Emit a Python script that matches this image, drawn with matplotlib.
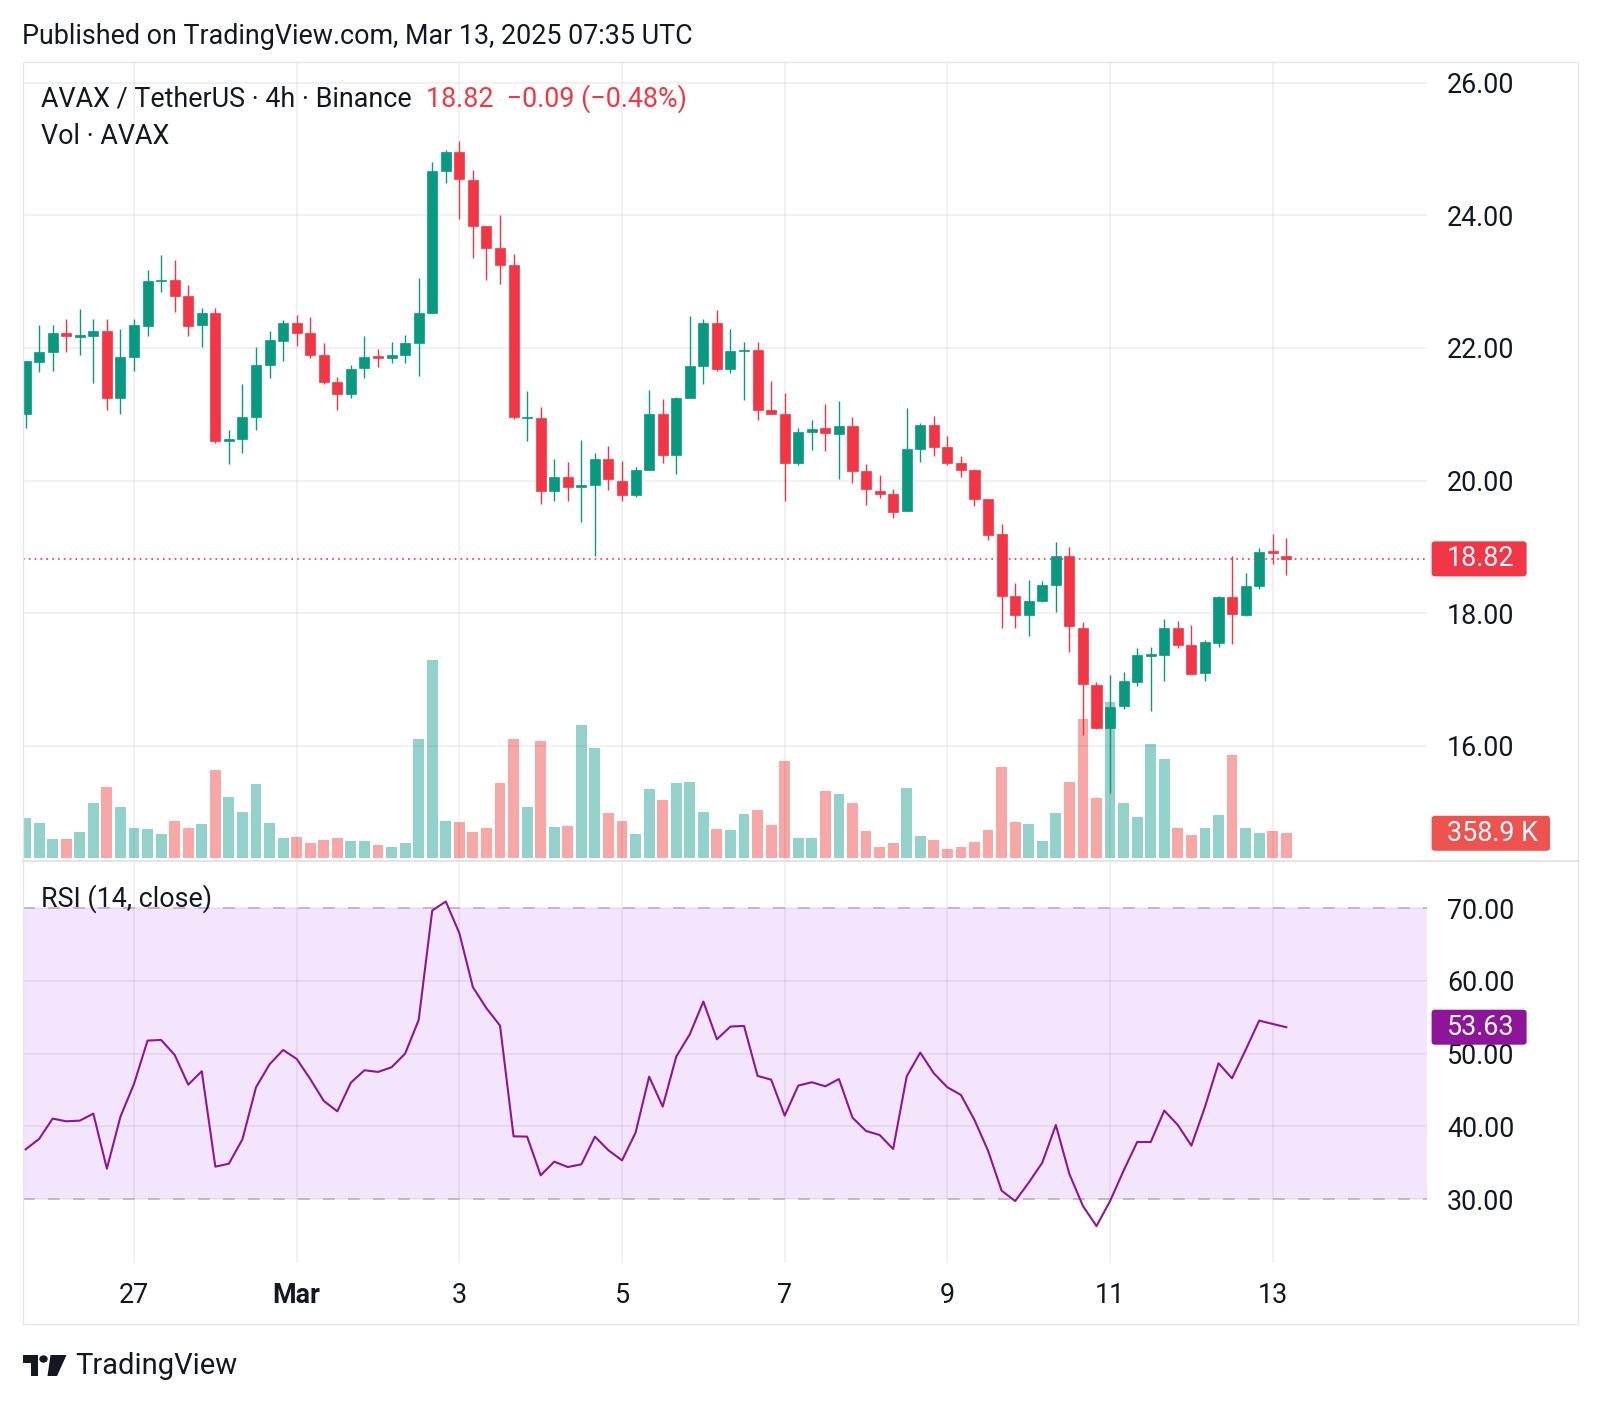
import matplotlib.pyplot as plt
import numpy as np
from matplotlib.lines import Line2D
from matplotlib.patches import Circle, FancyBboxPatch, Polygon, Rectangle
from matplotlib.ticker import FormatStrFormatter

W, H = 1600, 1403

# AVAX/USDT 4h candles, Feb 25 16:00 -> Mar 13 04:00
opens = [21.00, 21.79, 21.94, 22.22, 22.17, 22.18, 22.25, 21.24, 21.87, 22.33,
         23.01, 23.03, 22.78, 22.34, 22.53, 20.59, 20.62, 20.96, 21.75, 22.11,
         22.38, 22.22, 21.90, 21.48, 21.31, 21.70, 21.88, 21.85, 21.90, 22.08,
         22.52, 24.67, 24.95, 24.54, 23.84, 23.50, 23.25, 20.94, 20.95, 19.84,
         20.05, 19.91, 19.94, 20.33, 20.00, 19.78, 20.16, 21.00, 20.39, 21.25,
         21.73, 22.38, 21.68, 21.95, 21.97, 21.07, 21.00, 20.26, 20.74, 20.80,
         20.71, 20.82, 20.14, 19.85, 19.80, 19.54, 20.48, 20.84, 20.50, 20.27,
         20.16, 19.73, 19.19, 18.26, 17.98, 18.18, 18.42, 18.86, 17.78, 16.92,
         16.27, 16.60, 16.97, 17.36, 17.37, 17.78, 17.52, 17.10, 17.55, 18.24,
         17.98, 18.41, 18.94, 18.87]
highs = [21.81, 22.34, 22.34, 22.43, 22.59, 22.43, 22.44, 22.28, 22.43, 23.17,
         23.40, 23.32, 22.95, 22.61, 22.61, 20.77, 21.46, 22.01, 22.25, 22.42,
         22.50, 22.46, 22.08, 21.56, 21.74, 22.18, 21.99, 22.09, 22.19, 23.06,
         24.80, 24.99, 25.12, 24.69, 23.84, 24.00, 23.42, 21.35, 21.11, 20.32,
         20.28, 20.61, 20.42, 20.52, 20.29, 20.20, 21.37, 21.23, 21.26, 22.48,
         22.43, 22.57, 22.28, 22.09, 22.09, 21.50, 21.32, 20.80, 20.92, 21.15,
         21.20, 20.96, 20.25, 20.08, 19.87, 21.10, 20.87, 20.98, 20.68, 20.37,
         20.17, 19.73, 19.35, 18.45, 18.50, 18.48, 19.07, 19.00, 17.87, 16.97,
         17.07, 17.12, 17.47, 17.49, 17.92, 17.89, 17.83, 17.60, 18.26, 18.86,
         18.61, 18.98, 19.20, 19.14]
lows = [20.79, 21.64, 21.65, 21.94, 21.89, 21.47, 21.06, 21.01, 21.66, 22.18,
        22.85, 22.54, 22.18, 22.02, 20.57, 20.25, 20.41, 20.76, 21.54, 21.80,
        22.03, 21.85, 21.45, 21.06, 21.25, 21.54, 21.71, 21.77, 21.77, 21.58,
        22.52, 24.48, 23.94, 23.36, 23.03, 22.97, 20.93, 20.60, 19.65, 19.70,
        19.69, 19.37, 18.86, 19.86, 19.69, 19.75, 20.16, 20.27, 20.10, 21.25,
        21.45, 21.65, 21.63, 21.21, 20.91, 21.00, 19.70, 20.23, 20.46, 20.45,
        20.03, 19.96, 19.63, 19.74, 19.44, 19.54, 20.28, 20.37, 20.23, 20.06,
        19.62, 19.10, 17.78, 17.78, 17.65, 18.17, 18.02, 17.42, 16.16, 16.25,
        15.29, 16.56, 16.90, 16.52, 16.98, 17.48, 17.08, 16.98, 17.49, 17.54,
        17.96, 18.37, 18.75, 18.57]
closes = [21.80, 21.94, 22.22, 22.18, 22.18, 22.25, 21.24, 21.87, 22.34, 23.01,
          23.03, 22.78, 22.33, 22.52, 20.59, 20.62, 20.96, 21.74, 22.12, 22.37,
          22.23, 21.89, 21.48, 21.30, 21.69, 21.86, 21.85, 21.90, 22.07, 22.52,
          24.67, 24.95, 24.55, 23.84, 23.51, 23.25, 20.96, 20.96, 19.84, 20.05,
          19.91, 19.94, 20.33, 20.02, 19.78, 20.16, 21.00, 20.39, 21.25, 21.73,
          22.37, 21.68, 21.96, 21.97, 21.07, 21.00, 20.26, 20.74, 20.78, 20.72,
          20.83, 20.15, 19.87, 19.80, 19.53, 20.47, 20.84, 20.50, 20.27, 20.16,
          19.73, 19.18, 18.26, 17.98, 18.18, 18.42, 18.86, 17.81, 16.93, 16.27,
          16.59, 16.98, 17.37, 17.37, 17.78, 17.52, 17.09, 17.57, 18.24, 17.99,
          18.41, 18.92, 18.91, 18.82]
volumes_k = [579, 507, 278, 278, 378, 790, 1024, 732, 440, 421,
             345, 536, 431, 488, 1263, 885, 660, 1067, 507, 292,
             311, 225, 268, 292, 249, 249, 191, 163, 215, 1708,
             2847, 536, 517, 378, 440, 1081, 1708, 732, 1689, 450,
             464, 1909, 1584, 646, 536, 354, 990, 833, 1077, 1091,
             665, 421, 407, 636, 689, 479, 1392, 287, 287, 962,
             923, 790, 388, 158, 225, 1014, 321, 258, 134, 158,
             234, 407, 1316, 517, 493, 249, 646, 1096, 1995, 866,
             2239, 790, 598, 1641, 1426, 431, 335, 431, 617, 1488,
             431, 364, 388, 358.9]
rsi = [36.83, 38.26, 41.06, 40.69, 40.78, 41.74, 34.17, 41.33, 45.83, 51.79,
       51.88, 49.82, 45.73, 47.57, 34.45, 34.86, 38.21, 45.37, 48.53, 50.50,
       49.27, 46.51, 43.49, 42.06, 46.01, 47.71, 47.48, 48.12, 50.00, 54.63,
       69.68, 70.92, 66.56, 59.13, 56.24, 53.85, 38.62, 38.58, 33.26, 35.14,
       34.40, 34.77, 38.58, 36.70, 35.32, 39.13, 46.83, 42.71, 49.59, 52.66,
       57.16, 51.97, 53.72, 53.81, 46.93, 46.42, 41.47, 45.60, 46.06, 45.50,
       46.51, 41.19, 39.36, 38.81, 36.88, 46.88, 50.14, 47.29, 45.37, 44.31,
       40.87, 36.65, 31.15, 29.72, 32.25, 35.00, 40.18, 33.44, 29.04, 26.28,
       29.72, 33.90, 37.84, 37.84, 42.16, 40.18, 37.34, 42.66, 48.67, 46.61,
       50.50, 54.54, 54.08, 53.63]

day_ticks = [8, 20, 32, 44, 56, 68, 80, 92]
day_labels = ['27', 'Mar', '3', '5', '7', '9', '11', '13']
price_ticks = [16, 18, 20, 22, 24, 26]
rsi_ticks = [30, 40, 50, 60, 70]
last_price = 18.82
last_volume_k = 358.9
last_rsi = 53.63

TEXT = '#131722'
UP, DOWN = '#089981', '#F23645'
FS = 19.4

plt.rcParams['font.family'] = ['Roboto', 'DejaVu Sans']
plt.rcParams['lines.scale_dashes'] = False


def rect(x0, y0, x1, y1):
    # pixel box (top-left origin) -> figure fraction rect
    return [x0 / W, 1 - y1 / H, (x1 - x0) / W, (y1 - y0) / H]


def fx(px):
    return px / W


def fy(py):
    return 1 - py / H


fig = plt.figure(figsize=(W / 100, H / 100), dpi=100)
ax_v = fig.add_axes(rect(22.5, 62, 1427, 860.5))
ax = fig.add_axes(rect(22.5, 62, 1427, 860.5), sharex=ax_v)
ax.patch.set_visible(False)
ax_r = fig.add_axes(rect(22.5, 860.5, 1427, 1263), sharex=ax_v)

x = np.arange(len(closes))
o, hi, lo, c = (np.array(a) for a in (opens, highs, lows, closes))
up = c >= o
cols = np.where(up, UP, DOWN)

# volume
ax_v.bar(x, volumes_k, width=0.8, color=np.where(up, '#92D2CA', '#F6A7A6'))
ax_v.set_ylim(-31.6, 11432)
ax_v.axis('off')

# candles
ax.vlines(x, lo, hi, colors=cols, lw=1.0, zorder=3)
ax.bar(x, np.maximum(np.abs(c - o), 0.02), bottom=np.minimum(o, c), width=0.74,
       color=cols, edgecolor=cols, lw=0.5, zorder=4)
ax.axhline(last_price, color=DOWN, lw=1.2, ls=(0, (1.2, 3.0)), zorder=5)

ax.set_xlim(-0.225, 103.38)
ax.set_ylim(14.272, 26.312)
ax.set_yticks(price_ticks)
ax.yaxis.set_major_formatter(FormatStrFormatter('%.2f'))
ax.yaxis.tick_right()
ax.set_xticks(day_ticks)
ax.tick_params(axis='x', length=0, labelbottom=False)
ax.tick_params(axis='y', length=0, pad=14.4, labelsize=FS, labelcolor=TEXT)
ax.grid(True, color='#000000', alpha=0.06, lw=1.2)
for s in ax.spines.values():
    s.set_visible(False)

# RSI
ax_r.axhspan(30, 70, color='#F3E5FC', lw=0, zorder=0)
for lvl in (30, 70):
    ax_r.axhline(lvl, color='#B5ACBC', lw=1.1, ls=(0, (8.5, 9.5)), zorder=2)
ax_r.plot(x, rsi, color='#8E1599', lw=1.5, zorder=3)
ax_r.set_ylim(21.2, 76.56)
ax_r.set_yticks(rsi_ticks)
ax_r.yaxis.set_major_formatter(FormatStrFormatter('%.2f'))
ax_r.yaxis.tick_right()
ax_r.set_xticks(day_ticks, day_labels)
ax_r.get_xticklabels()[1].set_fontweight('bold')
ax_r.tick_params(axis='x', length=0, pad=14, labelsize=FS, labelcolor=TEXT)
ax_r.tick_params(axis='y', length=0, pad=14.4, labelsize=FS, labelcolor=TEXT)
ax_r.grid(True, color='#000000', alpha=0.06, lw=1.2)
ax_r.set_facecolor('none')
for s in ax_r.spines.values():
    s.set_visible(False)


def tag(axis, value, label, color, width):
    y = axis.transData.transform((0, value))[1]
    box = FancyBboxPatch((fx(1431.6), (y - 17.5) / H), width / W, 35 / H,
                         boxstyle='round,pad=0,rounding_size=0.002',
                         transform=fig.transFigure, fc=color, ec='none', zorder=6)
    fig.add_artist(box)
    fig.text(fx(1447), y / H, label, color='white', va='center', ha='left',
             fontsize=FS, zorder=7)


tag(ax, last_price, f'{last_price:.2f}', DOWN, 95)
tag(ax_v, last_volume_k, f'{last_volume_k:.1f} K', '#EF5350', 118.4)
tag(ax_r, last_rsi, f'{last_rsi:.2f}', '#8E1599', 95)

# frame and pane separator
fig.add_artist(Rectangle((fx(22.5), fy(1323.5)), (1577.6 - 22.5) / W, (1323.5 - 62) / H,
                         transform=fig.transFigure, fill=False, ec='#E6E6E6', lw=1))
fig.add_artist(Line2D([fx(22.5), fx(1577.6)], [fy(860.5)] * 2, color='#E0E0E0', lw=1.2))

# header texts
fig.text(fx(22.5), fy(37), 'Published on TradingView.com, Mar 13, 2025 07:35 UTC',
         va='center', fontsize=FS, color=TEXT)
fig.text(fx(40.8), fy(98.5), 'AVAX / TetherUS · 4h · Binance', va='center', fontsize=FS, color=TEXT)
fig.text(fx(425.5), fy(98.5), '18.82  −0.09 (−0.48%)', va='center', fontsize=FS, color=DOWN)
fig.text(fx(40.8), fy(136.5), 'Vol · AVAX', va='center', fontsize=FS, color=TEXT)
fig.text(fx(40.8), fy(898.5), 'RSI (14, close)', va='center', fontsize=FS, color=TEXT)

# TradingView logo
logo = dict(transform=fig.transFigure, fc=TEXT, ec='none')
fig.add_artist(Rectangle((fx(22.5), fy(1363)), 15.5 / W, 8 / H, **logo))
fig.add_artist(Rectangle((fx(30.5), fy(1376)), 7.5 / W, 21 / H, **logo))
fig.add_artist(Circle((fx(43.5), fy(1359)), 4.2 / W, **logo))
fig.add_artist(Polygon([(fx(50.5), fy(1355)), (fx(66.5), fy(1355)), (fx(57), fy(1376)),
                        (fx(47.5), fy(1376))], **logo))
fig.text(fx(75), fy(1366), 'TradingView', va='center', fontsize=21, color=TEXT)

fig.savefig('out.png', dpi=100)
